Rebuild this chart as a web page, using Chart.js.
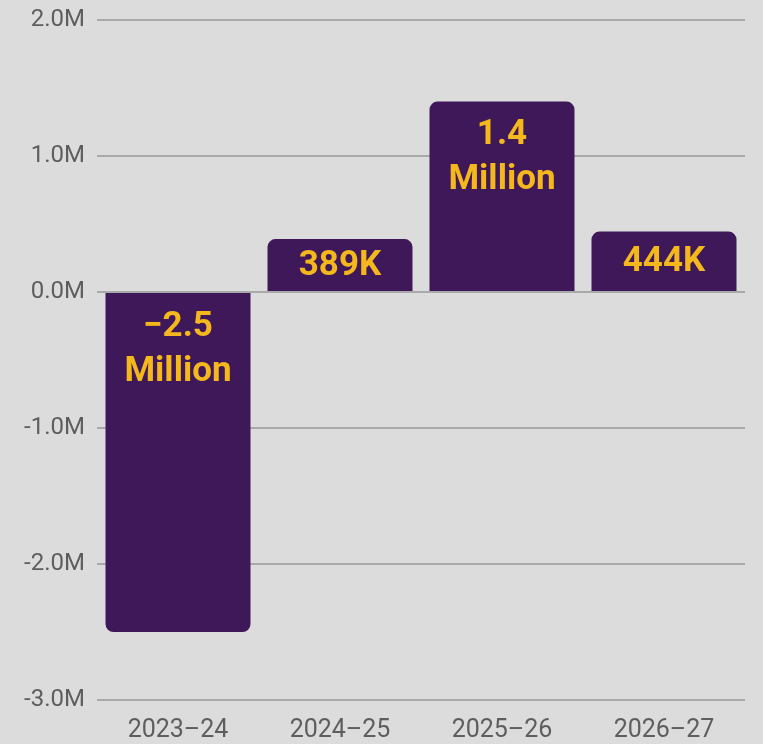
<!DOCTYPE html>
<html>
<head>
<meta charset="utf-8">
<script src="https://cdn.jsdelivr.net/npm/chart.js@4/dist/chart.umd.min.js"></script>
<style>
  html, body { margin: 0; padding: 0; background: #dcdcdc; }
  #wrap { width: 763px; height: 744px; }
</style>
</head>
<body>
<div id="wrap"><canvas id="chart"></canvas></div>
<script>
const years = ["2023\u201324", "2024\u201325", "2025\u201326", "2026\u201327"];
const change = [-2500000, 389000, 1400000, 444000];
const barLabels = [["\u22122.5", "Million"], ["389K"], ["1.4", "Million"], ["444K"]];

// labels written inside each bar, near its upper edge
const barText = {
    id: "barText",
    afterDatasetsDraw(chart) {
        const ctx = chart.ctx;
        const meta = chart.getDatasetMeta(0);
        ctx.save();
        ctx.fillStyle = "#f4b81c";
        ctx.font = "bold 35px Roboto";
        ctx.textAlign = "center";
        ctx.textBaseline = "middle";
        meta.data.forEach((bar, i) => {
            const lines = barLabels[i];
            const top = Math.min(bar.y, bar.base);
            const bottom = Math.max(bar.y, bar.base);
            if (lines.length === 1) {
                ctx.fillText(lines[0], bar.x, (top + bottom) / 2 + 1);
            } else {
                lines.forEach((t, j) => ctx.fillText(t, bar.x, top + 34 + j * 45));
            }
        });
        ctx.restore();
    }
};

new Chart(document.getElementById("chart"), {
    type: "bar",
    data: {
        labels: years,
        datasets: [{
            data: change,
            backgroundColor: "#3e1858",
            borderRadius: 8,
            borderSkipped: "start",
            barPercentage: 0.895,
            categoryPercentage: 1
        }]
    },
    options: {
        responsive: true,
        maintainAspectRatio: false,
        animation: false,
        layout: { padding: { top: 0, right: 18, bottom: 0, left: 0 } },
        plugins: { legend: { display: false }, tooltip: { enabled: false } },
        scales: {
            x: {
                afterFit(scale) { scale.height = 44; },
                grid: { display: false },
                border: { display: false },
                ticks: { color: "#5e5e5e", font: { family: "Roboto", size: 25 }, padding: 8 }
            },
            y: {
                min: -3000000,
                max: 2000000,
                afterFit(scale) { scale.width = 97; scale.paddingTop = 20; },
                grid: { color: "#a9a9a9", lineWidth: 2, drawTicks: false },
                border: { display: false },
                ticks: {
                    stepSize: 1000000,
                    color: "#5e5e5e",
                    padding: 12,
                    font: { family: "Roboto", size: 24 },
                    callback: v => (v / 1000000).toFixed(1) + "M"
                }
            }
        }
    },
    plugins: [barText]
});
</script>
</body>
</html>
